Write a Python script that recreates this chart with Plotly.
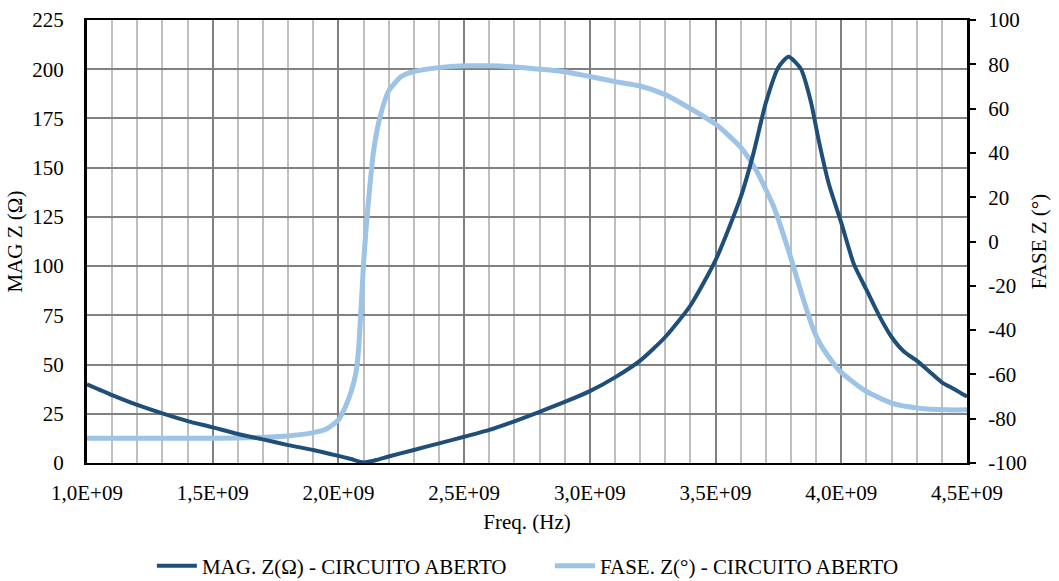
import plotly.graph_objects as go

# Frequency in units of 1E9 Hz
mag_freq_ghz = [1.0, 1.1, 1.2, 1.3, 1.4, 1.5, 1.6, 1.7, 1.8, 1.9, 2.0, 2.05, 2.1, 2.15, 2.2,
                2.3, 2.4, 2.5, 2.6, 2.7, 2.8, 2.9, 3.0, 3.1, 3.2, 3.3, 3.4, 3.5, 3.6, 3.65,
                3.7, 3.75, 3.79, 3.84, 3.88, 3.91, 3.95, 4.0, 4.05, 4.1, 4.15, 4.2, 4.25,
                4.3, 4.35, 4.4, 4.45, 4.5]
mag_ohm = [40, 34.5, 29.5, 25.2, 21.3, 18.1, 14.7, 12.0, 9.1, 6.6, 3.6, 2.0, 0.3, 1.5, 3.3,
           6.6, 10, 13.3, 16.8, 21.2, 26, 31, 36.5, 43.5, 52, 64, 80, 103, 135, 157,
           183, 201, 206.3, 200, 183, 164, 142, 122, 101, 88, 75, 64, 56.5,
           52, 46.5, 41, 37.5, 33.7]

phase_freq_ghz = [1.0, 1.2, 1.4, 1.6, 1.7, 1.8, 1.9, 1.95, 2.0, 2.03, 2.05, 2.07, 2.08, 2.09,
                  2.1, 2.11, 2.12, 2.14, 2.165, 2.2, 2.25, 2.3, 2.4, 2.5, 2.6, 2.7, 2.8, 2.9,
                  3.0, 3.1, 3.2, 3.3, 3.4, 3.5, 3.6, 3.66, 3.73, 3.79, 3.85, 3.89, 3.92,
                  3.99, 4.09, 4.2, 4.31, 4.42, 4.5]
phase_deg = [-88.8, -88.8, -88.8, -88.7, -88.4, -87.8, -86.3, -84.8, -80.5, -74, -68, -59, -49, -30,
             -10, 6, 19, 41, 56, 68, 74.5, 76.7, 78.5, 79.3, 79.3, 78.8, 77.8, 76.6,
             74.5, 72.2, 70.2, 66.3, 60, 53, 42.5, 32.5, 16, -4, -26.4, -40, -47,
             -58, -67, -73, -75.3, -76, -76]

x_tick_vals_ghz = [1.0, 1.5, 2.0, 2.5, 3.0, 3.5, 4.0, 4.5]
x_tick_text = ["1,0E+09", "1,5E+09", "2,0E+09", "2,5E+09", "3,0E+09", "3,5E+09", "4,0E+09", "4,5E+09"]
phase_tick_vals = [-100, -80, -60, -40, -20, 0, 20, 40, 60, 80, 100]
phase_tick_text = ["-100", "-80", "-60", "-40", "-20", "0", "20", "40", "60", "80", "100"]

mag_name = "MAG. Z(Ω) - CIRCUITO ABERTO"
phase_name = "FASE. Z(°) - CIRCUITO ABERTO"

FONT = "Liberation Serif"
FS = 21
f = dict(family=FONT, size=FS, color="black")

fig = go.Figure()
fig.add_trace(go.Scatter(
    x=[v * 1e9 for v in phase_freq_ghz], y=phase_deg, name=phase_name, yaxis="y",
    mode="lines", line=dict(color="#9DC3E6", width=5, shape="spline", smoothing=0.6),
    legendrank=2))
fig.add_trace(go.Scatter(
    x=[v * 1e9 for v in mag_freq_ghz], y=mag_ohm, name=mag_name, yaxis="y2",
    mode="lines", line=dict(color="#1F4E79", width=4, shape="spline", smoothing=0.6),
    legendrank=1))

fig.update_layout(
    width=1059, height=581,
    margin=dict(l=87, r=92, t=20, b=118, autoexpand=False),
    paper_bgcolor="white", plot_bgcolor="white",
    font=f,
    showlegend=True,
    legend=dict(orientation="h", x=0.526, xanchor="center", y=-0.2325, yanchor="middle",
                font=f, itemwidth=40, entrywidthmode="pixels", entrywidth=343,
                borderwidth=0, bgcolor="rgba(0,0,0,0)"),
    xaxis=dict(
        range=[1e9, 4.5e9], tickmode="array",
        tickvals=[v * 1e9 for v in x_tick_vals_ghz], ticktext=x_tick_text,
        tickfont=f,
        showgrid=True, gridcolor="#808080", gridwidth=2,
        minor=dict(tick0=1e9, dtick=1e8, showgrid=True, gridcolor="#BFBFBF", gridwidth=2),
        showline=True, linecolor="black", linewidth=2, mirror=True,
        ticks="", ticklabelstandoff=10,
        title=dict(text="Freq. (Hz)", standoff=10, font=f),
        zeroline=False,
    ),
    yaxis=dict(
        side="right", range=[-100, 100], tickmode="array",
        tickvals=phase_tick_vals, ticktext=phase_tick_text,
        tickfont=f,
        showgrid=False, zeroline=False,
        showline=True, linecolor="black", linewidth=3,
        ticks="outside", ticklen=6, tickwidth=2, tickcolor="black",
        ticklabelstandoff=8,
        title=dict(text="FASE Z (°)", standoff=6, font=f),
    ),
    yaxis2=dict(
        overlaying="y", side="left", range=[0, 225], dtick=25, tick0=0,
        tickfont=f,
        showgrid=True, gridcolor="#808080", gridwidth=2, zeroline=False,
        showline=True, linecolor="black", linewidth=3,
        ticks="", ticklabelstandoff=16,
        title=dict(text="MAG Z (Ω)", standoff=4, font=f),
    ),
)

fig.write_html("out.html")
